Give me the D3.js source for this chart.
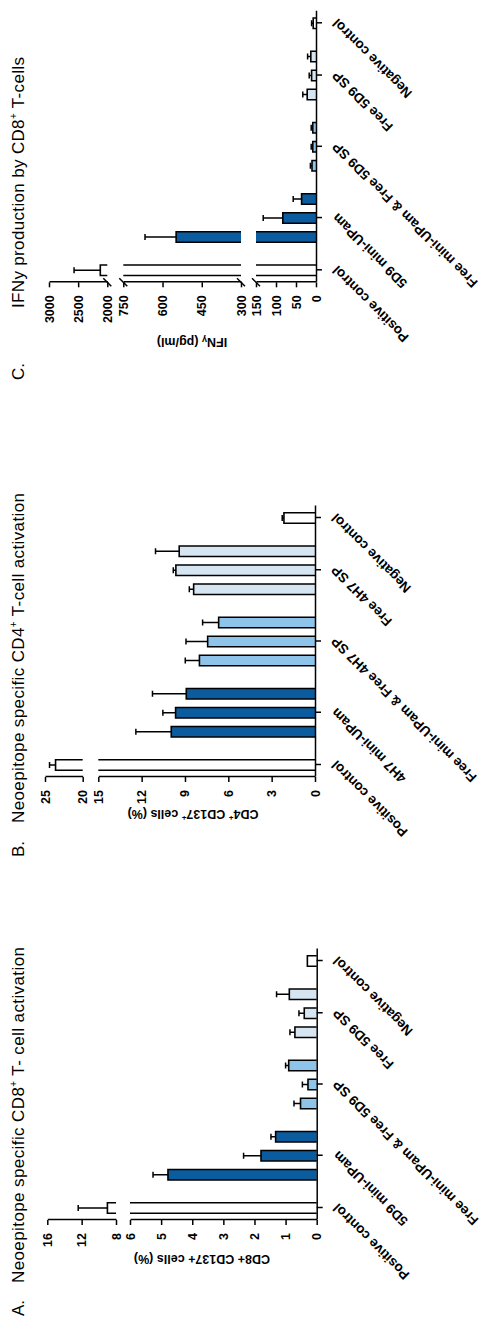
<!DOCTYPE html>
<html>
<head>
<meta charset="utf-8">
<script src="https://cdn.jsdelivr.net/npm/d3@7/dist/d3.min.js"></script>
<style>
  body { margin: 0; background: #fff; }
  svg text { font-family: "Liberation Sans", Arial, sans-serif; fill: #000; }
</style>
</head>
<body>
<svg id="chart" width="487" height="1319"></svg>
<script>
// ---- data ----
const cd8Groups = ['Positive control', '5D9 mini-UPam', 'Free mini-UPam & Free 5D9 SP', 'Free 5D9 SP', 'Negative control'];
const cd4Groups = ['Positive control', '4H7 mini-UPam', 'Free mini-UPam & Free 4H7 SP', 'Free 4H7 SP', 'Negative control'];
const groupSizes = [1, 3, 3, 3, 1];

const cd8Mean = [9.0, 4.78, 1.79, 1.32, 0.52, 0.28, 0.90, 0.70, 0.40, 0.88, 0.30];
const cd8Err  = [3.4, 0.48, 0.56, 0.15, 0.21, 0.18, 0.10, 0.16, 0.17, 0.41, 0];
const cd8Ticks = [[0, 1, 2, 3, 4, 5, 6], [8, 12, 16]];

const cd4Mean = [23.6, 9.95, 9.65, 8.91, 8.0, 7.43, 6.67, 8.40, 9.63, 9.40, 2.15];
const cd4Err  = [0.8, 2.45, 0.88, 2.34, 0.98, 1.5, 1.11, 0.30, 0.18, 1.64, 0.12];
const cd4Ticks = [[0, 3, 6, 9, 12, 15], [20, 25]];

const ifnMean = [2120, 548, 83, 36, 10, 8, 8, 22, 11, 13, 7];
const ifnErr  = [450, 119, 49, 21, 4, 4, 4, 11, 6, 8, 4];
const ifnTicks = [[0, 50, 100, 150], [300, 450, 600, 750], [2000, 2500, 3000]];

const groupFills = ['#ffffff', '#0b5c9e', '#8ec4ea', '#d5e5f1', '#ffffff'];

// ---- layout, drawn in the unrotated frame (1319 wide x 487 tall) ----
const panels = [
  { letter: 'A.', letterX: 3, title: ['Neoepitope specific CD8', '+', ' T- cell activation'], titleX: 36, titleLen: 336,
    x0: 99, ranges: [[316.7, 130], [116, 47.3]], ticks: cd8Ticks, slashes: false,
    groups: cd8Groups, mean: cd8Mean, err: cd8Err,
    yLabel: [['CD8+ CD137+ cells (%)', 0]], yLabelX: 64, yLabelY: 202 },
  { letter: 'B.', letterX: 462, title: ['Neoepitope specific CD4', '+', ' T-cell activation'], titleX: 496, titleLen: 330,
    x0: 542, ranges: [[315, 98.3], [82.7, 45]], ticks: cd4Ticks, slashes: false,
    groups: cd4Groups, mean: cd4Mean, err: cd4Err,
    yLabel: [['CD4', 0], ['+', 1], [' CD137', 0], ['+', 1], [' cells (%)', 0]], yLabelX: 509, yLabelY: 193 },
  { letter: 'C.', letterX: 939, title: ['IFNy production by CD8', '+', ' T-cells'], titleX: 1011, titleLen: 251,
    x0: 1036.7, ranges: [[316, 256], [241, 123.3], [107.3, 49]], ticks: ifnTicks, slashes: true,
    groups: cd8Groups, mean: ifnMean, err: ifnErr,
    yLabel: [['IFN', 0], ['γ', 2], ['  (pg/ml)', 0]], yLabelX: 981, yLabelY: 192 }
];

const svg = d3.select('#chart');
const root = svg.append('g').attr('transform', 'translate(0,1319) rotate(-90)');

// slot index of each bar, with a gap between groups
const slotGap = 0.75;
const slots = [], centers = [], barGroup = [];
let s = 0;
groupSizes.forEach((n, gi) => {
  for (let k = 0; k < n; k++) { slots.push(s + k); barGroup.push(gi); }
  centers.push(s + (n - 1) / 2);
  s += n + slotGap;
});

const barW = 10.5;
const axisW = 1.5;

panels.forEach(p => {
  const g = root.append('g');

  // broken value axis: one linear scale per segment
  const segs = p.ticks.map((t, i) => ({
    d0: t[0], d1: t[t.length - 1], ticks: t,
    scale: d3.scaleLinear().domain([t[0], t[t.length - 1]]).range(p.ranges[i])
  }));
  const base = p.ranges[0][0];
  const yv = v => {
    const seg = segs.find(sg => v <= sg.d1) || segs[segs.length - 1];
    return seg.scale(v);
  };

  const x = d3.scaleLinear().domain([-12 / 19, 259 / 19]).range([p.x0, p.x0 + 271]);

  // bars, drawn piecewise across the breaks
  p.mean.forEach((v, i) => {
    const cx = x(slots[i]);
    const l = cx - barW / 2, r = cx + barW / 2;
    segs.forEach(sg => {
      if (v <= sg.d0) return;
      const top = Math.min(v, sg.d1);
      const y0 = sg.scale(sg.d0), y1 = sg.scale(top);
      g.append('rect')
        .attr('x', l).attr('y', y1)
        .attr('width', barW).attr('height', y0 - y1)
        .attr('fill', groupFills[barGroup[i]]);
      const capped = v <= sg.d1;
      g.append('path')
        .attr('d', `M${l},${y0}V${y1}` + (capped ? `H${r}` : `M${r},${y1}`) + `V${y0}`)
        .attr('fill', 'none').attr('stroke', '#000').attr('stroke-width', 1.6);
    });

    // error bar (upper only)
    const e = p.err[i];
    if (e > 0) {
      const ya = yv(v), yb = yv(v + e);
      g.append('path')
        .attr('d', `M${cx},${ya}V${yb}M${cx - 3},${yb}H${cx + 3}`)
        .attr('fill', 'none').attr('stroke', '#000').attr('stroke-width', 1.5);
    }
  });

  // value axis segments
  segs.forEach(sg => {
    const ax = g.append('g')
      .attr('transform', `translate(${p.x0},0)`)
      .call(d3.axisLeft(sg.scale).tickValues(sg.ticks).tickFormat(d3.format('d'))
        .tickSize(5).tickSizeOuter(0).tickPadding(8));
    ax.selectAll('path, line').attr('stroke', '#000').attr('stroke-width', axisW);
    ax.selectAll('text')
      .attr('font-size', 12.5).attr('font-weight', 'bold')
      .attr('font-family', '"Liberation Sans", Arial, sans-serif');
  });

  // break marks
  if (p.slashes) {
    segs.forEach((sg, i) => {
      const ends = [];
      if (i > 0) ends.push(sg.scale(sg.d0));
      if (i < segs.length - 1) ends.push(sg.scale(sg.d1));
      ends.forEach(yy => {
        g.append('line')
          .attr('x1', p.x0 + 4).attr('y1', yy - 4)
          .attr('x2', p.x0 - 4).attr('y2', yy + 4)
          .attr('stroke', '#000').attr('stroke-width', axisW);
      });
    });
  }

  // category axis
  const cax = g.append('g')
    .attr('transform', `translate(0,${base})`)
    .call(d3.axisBottom(x).tickValues(centers).tickSize(6).tickSizeOuter(0)
      .tickFormat((d, i) => p.groups[i]));
  cax.selectAll('path, line').attr('stroke', '#000').attr('stroke-width', axisW);
  cax.selectAll('text')
    .attr('x', 0).attr('y', 0).attr('dy', 0)
    .attr('text-anchor', 'end')
    .attr('transform', 'translate(5,22) rotate(-45)')
    .attr('font-size', 13.5).attr('font-weight', 'bold')
    .attr('font-family', '"Liberation Sans", Arial, sans-serif');

  // value axis title
  const yl = g.append('text')
    .attr('transform', `translate(${p.yLabelX},${p.yLabelY}) rotate(-90)`)
    .attr('text-anchor', 'middle')
    .attr('font-size', 12.5).attr('font-weight', 'bold');
  p.yLabel.forEach(([t, kind]) => {
    const ts = yl.append('tspan').text(t);
    if (kind === 1) ts.attr('font-size', 8).attr('baseline-shift', '5');
    if (kind === 2) ts.attr('font-size', 9).attr('baseline-shift', '-1');
  });

  // panel letter and title
  g.append('text').attr('x', p.letterX).attr('y', 24).attr('font-size', 17).text(p.letter);
  const tt = g.append('text').attr('x', p.titleX).attr('y', 24).attr('font-size', 17)
    .attr('textLength', p.titleLen).attr('lengthAdjust', 'spacing');
  p.title.forEach((t, i) => {
    const ts = tt.append('tspan').text(t);
    if (i === 1) ts.attr('font-size', 10).attr('baseline-shift', '7');
  });
});
</script>
</body>
</html>
